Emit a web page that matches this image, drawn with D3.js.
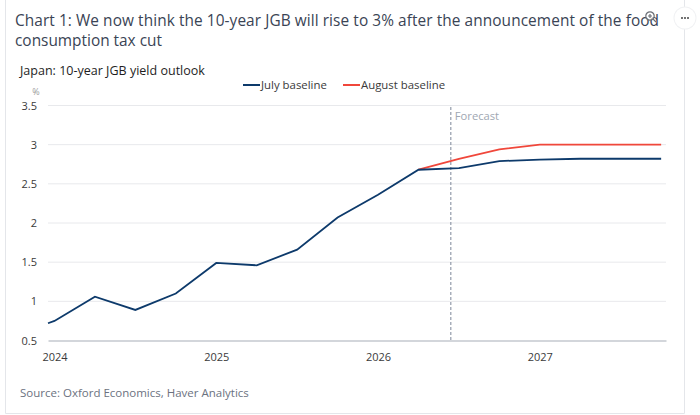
<!DOCTYPE html>
<html>
<head>
<meta charset="utf-8">
<script src="https://cdn.jsdelivr.net/npm/d3@7"></script>
<style>
    body { margin: 0; background: #fff; }
    svg { display: block; font-family: "Open Sans", "Noto Sans", sans-serif; }
</style>
</head>
<body>
<svg id="chart" width="700" height="415"></svg>
<script>
// Quarterly points, as fractional years
let periods = [2023.96, 2024.0, 2024.25, 2024.5, 2024.75, 2025.0, 2025.25, 2025.5, 2025.75,
               2026.0, 2026.25, 2026.5, 2026.75, 2027.0, 2027.25, 2027.5, 2027.75];
let julyValues = [0.72, 0.75, 1.06, 0.89, 1.10, 1.49, 1.46, 1.66, 2.07,
                  2.36, 2.68, 2.70, 2.79, 2.81, 2.82, 2.82, 2.82];
// August baseline only starts where the forecasts split
let augustPeriods = [2026.25, 2026.5, 2026.75, 2027.0, 2027.25, 2027.5, 2027.75];
let augustValues = [2.68, 2.82, 2.94, 3.0, 3.0, 3.0, 3.0];
let yTicks = [0.5, 1, 1.5, 2, 2.5, 3, 3.5];
let yearTicks = [2024, 2025, 2026, 2027];
let forecastStart = 2026.45;

let svg = d3.select('#chart');

// Shrink or grow a text's font so it spans the given width
function fitWidth(sel, width) {
    let size = parseFloat(sel.attr('font-size'));
    let len = sel.node().getComputedTextLength();
    sel.attr('font-size', (size * width / len).toFixed(2));
}

// Card outline
svg.append('path')
    .attr('d', 'M5.5,0 V413.5 H684.5 V0')
    .attr('fill', 'none')
    .attr('stroke', '#e4e6ea');

// Title
let title = svg.append('text')
    .attr('x', 15)
    .attr('fill', '#3a4455')
    .attr('font-size', 15.4);
title.append('tspan').attr('x', 15).attr('y', 26)
    .attr('textLength', 644)
    .attr('lengthAdjust', 'spacing')
    .text('Chart 1: We now think the 10-year JGB will rise to 3% after the announcement of the food');
title.append('tspan').attr('x', 15).attr('y', 46)
    .text('consumption tax cut');

// Zoom icon over the title
let icon = svg.append('g').attr('transform', 'translate(650,16)')
    .attr('stroke', '#6b6f76').attr('fill', 'none').attr('stroke-width', 1.2);
icon.append('circle').attr('r', 4.2).attr('fill', 'rgba(255,255,255,0.6)');
icon.append('path').attr('d', 'M-2,0 H2 M0,-2 V2 M3,3 L6,6');

// "..." menu button
let menu = svg.append('g').attr('transform', 'translate(685,18)');
menu.append('circle').attr('r', 11.5).attr('fill', '#f1f2f4');
menu.append('circle').attr('r', 10.5).attr('fill', '#fff');
menu.selectAll('circle.dot')
    .data([-3, 0, 3])
    .join('circle')
    .attr('class', 'dot')
    .attr('cx', d => d)
    .attr('r', 1)
    .attr('fill', '#444');

// Subtitle
let subtitle = svg.append('text')
    .attr('x', 20).attr('y', 75)
    .attr('font-size', 12)
    .attr('fill', '#1e1e1e')
    .text('Japan: 10-year JGB yield outlook');
fitWidth(subtitle, 185);

// Scales
let x = d3.scaleLinear().domain([2023.96, 2027.78]).range([48, 666]);
let y = d3.scaleLinear().domain([0.5, 3.5]).range([340.5, 105.5]);

// Gridlines
svg.append('g')
    .selectAll('line')
    .data(yTicks.slice(1))
    .join('line')
    .attr('x1', x.range()[0]).attr('x2', x.range()[1])
    .attr('y1', d => y(d)).attr('y2', d => y(d))
    .attr('stroke', '#e8e9ec');

// Y axis labels
let yAxis = svg.append('g')
    .attr('transform', 'translate(37,0)')
    .call(d3.axisLeft(y).tickValues(yTicks).tickSize(0).tickPadding(0).tickFormat(d3.format('')));
yAxis.select('.domain').remove();
yAxis.selectAll('text')
    .attr('font-size', 11)
    .attr('fill', '#3a3a3a')
    .attr('font-family', '"Open Sans", sans-serif');

svg.append('text')
    .attr('x', 36).attr('y', 95)
    .attr('text-anchor', 'middle')
    .attr('font-size', 9)
    .attr('fill', '#9a9a9a')
    .text('%');

// X axis
let xAxis = svg.append('g')
    .attr('transform', `translate(0,${y(0.5)})`)
    .call(d3.axisBottom(x).tickValues(yearTicks).tickSize(0).tickPadding(13).tickFormat(d3.format('d')));
xAxis.select('.domain')
    .attr('stroke', '#c5c9cf')
    .attr('stroke-width', 1.6);
xAxis.selectAll('text')
    .attr('font-size', 11)
    .attr('fill', '#3a3a3a')
    .attr('font-family', '"Open Sans", sans-serif');

// Forecast marker
svg.append('line')
    .attr('x1', x(forecastStart)).attr('x2', x(forecastStart))
    .attr('y1', 107).attr('y2', y(0.5))
    .attr('stroke', '#7d8799')
    .attr('stroke-dasharray', '3,2');
svg.append('text')
    .attr('x', x(forecastStart) + 4).attr('y', 120)
    .attr('font-size', 11.2)
    .attr('fill', '#a0a7b2')
    .text('Forecast');

// Lines
let line = d3.line()
    .x(d => x(d[0]))
    .y(d => y(d[1]));

svg.append('path')
    .datum(d3.zip(augustPeriods, augustValues))
    .attr('fill', 'none')
    .attr('stroke', '#f0473b')
    .attr('stroke-width', 1.8)
    .attr('d', line);

svg.append('path')
    .datum(d3.zip(periods, julyValues))
    .attr('fill', 'none')
    .attr('stroke', '#0d3a6b')
    .attr('stroke-width', 1.8)
    .attr('d', line);

// Legend
let legendItems = [
    {name: 'July baseline', color: '#0d3a6b', x: 243},
    {name: 'August baseline', color: '#f0473b', x: 343}
];
let legend = svg.append('g').selectAll('g')
    .data(legendItems)
    .join('g')
    .attr('transform', d => `translate(${d.x},85)`);
legend.append('line')
    .attr('x1', 0).attr('x2', 17)
    .attr('stroke', d => d.color)
    .attr('stroke-width', 2);
legend.append('text')
    .attr('x', 18).attr('y', 4)
    .attr('font-size', 11.4)
    .attr('fill', '#3a3a3a')
    .text(d => d.name);

// Source
let source = svg.append('text')
    .attr('x', 20).attr('y', 397)
    .attr('font-size', 11)
    .attr('fill', '#6b7280')
    .text('Source: Oxford Economics, Haver Analytics');
fitWidth(source, 229);
</script>
</body>
</html>
